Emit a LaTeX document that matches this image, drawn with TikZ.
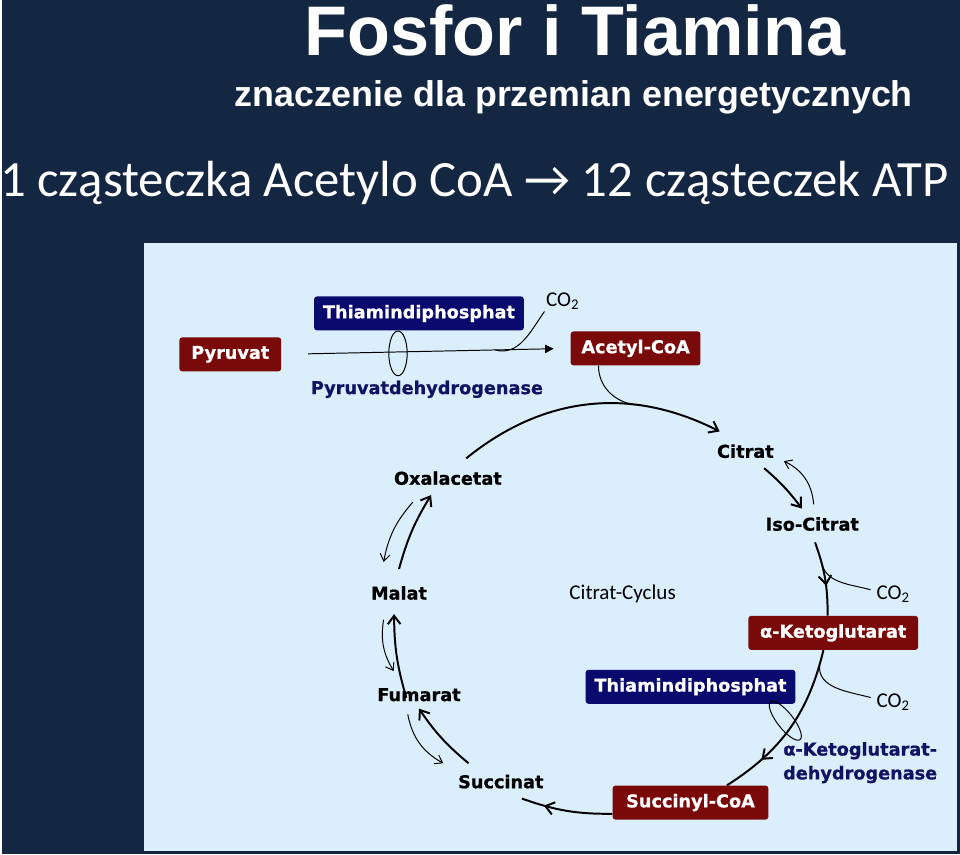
\documentclass[tikz,border=0pt]{standalone}
\usepackage{fontspec}
\usepackage{tikz}
\usetikzlibrary{arrows.meta,positioning,decorations.markings}

\newfontfamily\titlefont{Liberation Sans}
\newfontfamily\slidefont{Carlito}
\newfontfamily\chemfont[BoldFeatures={FakeBold=0.8}]{DejaVu Sans}

\definecolor{slidebg}{RGB}{19,38,66}
\definecolor{panelbg}{RGB}{218,238,252}
\definecolor{boxred}{RGB}{122,10,10}
\definecolor{boxblue}{RGB}{10,10,110}
\definecolor{enzblue}{RGB}{18,18,100}

\tikzset{
  metab/.style={font=\chemfont\bfseries\fontsize{12.6}{17}\selectfont, inner sep=1pt, text=black},
  redbox/.style={
    rectangle, rounded corners=2pt, fill=boxred, text=white,
    font=\chemfont\bfseries\fontsize{12.6}{17}\selectfont,
    minimum height=0.85cm, inner sep=2pt
  },
  bluebox/.style={redbox, fill=boxblue},
  enzlabel/.style={font=\chemfont\bfseries\fontsize{12.6}{17}\selectfont, text=enzblue, align=center, inner sep=1pt},
  co2label/.style={font=\slidefont\fontsize{15}{17}\selectfont, inner sep=1pt},
  cyclefwd/.style={line width=1.4pt, -{Straight Barb[length=6pt,width=9pt]}},
  cycleback/.style={line width=0.7pt, -{Straight Barb[length=5pt,width=7pt]}},
  midarrow/.style={line width=1.4pt, postaction={decorate},
    decoration={markings, mark=at position #1 with {\arrow{Straight Barb[length=6pt,width=9pt]}}}},
  sidebranch/.style={line width=0.7pt},
}

\begin{document}
\begin{tikzpicture}[x=0.025cm, y=-0.025cm]
  \fill[slidebg] (0,0) rectangle (960,856);
  \fill[panelbg] (143,243) rectangle (957,853);

  % headings
  \node (title) [font=\titlefont\bfseries\fontsize{50}{56}\selectfont, text=white, anchor=base] at (574,56) {Fosfor i Tiamina};
  \node (subtitle) [font=\titlefont\bfseries\fontsize{25.5}{30}\selectfont, text=white, anchor=base] at (573,107) {znaczenie dla przemian energetycznych};
  \node (atp) [font=\slidefont\fontsize{36.2}{40}\selectfont, text=white, anchor=base west, inner sep=0pt] at (-2,197) {1 cząsteczka Acetylo CoA → 12 cząsteczek ATP};

  % pyruvat -> acetyl-CoA
  \node (pyr) [redbox, minimum width=2.55cm] at (229,355) {Pyruvat};
  \node (thd1) [bluebox, minimum width=5.25cm] at (418,314) {Thiamindiphosphat};
  \node (acoa) [redbox, minimum width=3.25cm] at (635,349) {Acetyl-CoA};
  \node (co2a) [co2label] at (562,302) {CO\textsubscript{2}};
  \node (pdh) [enzlabel] at (426,390) {Pyruvatdehydrogenase};

  % cycle
  \node (cit) [metab] at (745,452) {Citrat};
  \node (iso) [metab] at (812,525) {Iso-Citrat};
  \node (co2b) [co2label] at (893,595) {CO\textsubscript{2}};
  \node (akg) [redbox, minimum width=4.25cm] at (833,634) {α-Ketoglutarat};
  \node (cyc) [co2label] at (622,595) {Citrat-Cyclus};
  \node (thd2) [bluebox, minimum width=5.25cm] at (690,688) {Thiamindiphosphat};
  \node (co2c) [co2label] at (893,703) {CO\textsubscript{2}};
  \node (kgdh) [enzlabel] at (860,764) {α-Ketoglutarat-\\dehydrogenase};
  \node (sca) [redbox, minimum width=3.9cm] at (690,804) {Succinyl-CoA};
  \node (suc) [metab] at (500,783) {Succinat};
  \node (fum) [metab] at (418,696) {Fumarat};
  \node (mal) [metab] at (398,594) {Malat};
  \node (oxa) [metab] at (447,479) {Oxalacetat};

  \draw[line width=0.7pt, -{Triangle[length=6pt,width=6pt]}, shorten <=19pt, shorten >=12pt]
    (pyr.east) -- coordinate[pos=0.74] (co2out) (acoa.west);
  \draw[line width=0.7pt] (397,354) ellipse [x radius=0.23cm, y radius=0.56cm];
  \draw[sidebranch] (co2out) to[out=-15, in=-125] (co2a.south west);

  \draw[cyclefwd] ([xshift=13pt,yshift=8pt]oxa.north) to[bend left=33] coordinate[pos=0.68] (join) ([xshift=3pt,yshift=8pt]cit.north west);
  \draw[sidebranch] ([xshift=20pt]acoa.south west) to[out=-90, in=172] (join);

  \draw[cyclefwd] ([xshift=-8pt,yshift=-6pt]cit.south east) to[bend left=6] ([xshift=27pt,yshift=5pt]iso.north west);
  \draw[cycleback] ([xshift=1pt,yshift=8pt]iso.north) to[bend right=30] ([xshift=6pt,yshift=-1pt]cit.south east);

  \draw[midarrow=0.6] ([xshift=2pt,yshift=-7pt]iso.south) to[bend left=10] coordinate[pos=0.25] (br1) ([xshift=-4pt]akg.north);
  \draw[sidebranch] (br1) to[out=-80, in=165] ([xshift=-3pt,yshift=3pt]co2b.west);

  \draw[midarrow=0.75] ([xshift=-7pt]akg.south) to[bend left=22] coordinate[pos=0.08] (br2) ([xshift=26pt]sca.north);
  \draw[sidebranch] (br2) to[out=-95, in=165] ([xshift=-3pt,yshift=3pt]co2c.west);
  \draw[line width=0.7pt, rotate around={-52:(785,722)}] (785,722) ellipse [x radius=0.6cm, y radius=0.2cm];

  \draw[midarrow=0.75] ([yshift=-8pt]sca.west) to[bend left=10] ([xshift=15pt,yshift=-6pt]suc.south);

  \draw[cyclefwd] ([xshift=-23pt,yshift=7pt]suc.north) to[bend left=8] ([yshift=-4pt]fum.south);
  \draw[cycleback] ([xshift=-8pt,yshift=-8pt]fum.south) to[bend right=25] ([xshift=-41pt,yshift=7pt]suc.north);

  \draw[cyclefwd] ([xshift=-9pt,yshift=-8pt]fum.north) to[bend left=8] ([xshift=-3.5pt,yshift=-9pt]mal.south);
  \draw[cycleback] ([xshift=-11pt,yshift=-13pt]mal.south) to[bend right=20] ([xshift=-18pt,yshift=11pt]fum.north);

  \draw[cyclefwd] ([yshift=11pt]mal.north) to[bend left=8] ([xshift=-12pt,yshift=-6pt]oxa.south);
  \draw[cycleback] ([xshift=-25pt,yshift=-11pt]oxa.south) to[bend right=15] ([xshift=-11pt,yshift=16pt]mal.north);
\end{tikzpicture}
\end{document}
